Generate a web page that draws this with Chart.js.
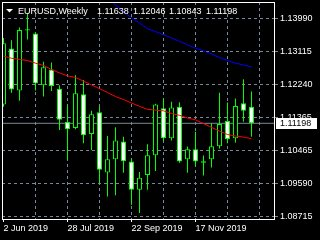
<!DOCTYPE html>
<html>
<head>
<meta charset="utf-8">
<script src="https://cdn.jsdelivr.net/npm/chart.js@4.4.1/dist/chart.umd.min.js"></script>
<style>
  html, body { margin: 0; padding: 0; background: #000; }
  #wrap { width: 320px; height: 240px; }
</style>
</head>
<body>
<div id="wrap"><canvas id="chart" width="320" height="240"></canvas></div>
<script>
// === DATA ===
const symbol = 'EURUSD,Weekly';

const weeks = [
  '2 Jun 2019', '9 Jun 2019', '16 Jun 2019', '23 Jun 2019', '30 Jun 2019', '7 Jul 2019',
  '14 Jul 2019', '21 Jul 2019', '28 Jul 2019', '4 Aug 2019', '11 Aug 2019', '18 Aug 2019',
  '25 Aug 2019', '1 Sep 2019', '8 Sep 2019', '15 Sep 2019', '22 Sep 2019', '29 Sep 2019',
  '6 Oct 2019', '13 Oct 2019', '20 Oct 2019', '27 Oct 2019', '3 Nov 2019', '10 Nov 2019',
  '17 Nov 2019', '24 Nov 2019', '1 Dec 2019', '8 Dec 2019', '15 Dec 2019', '22 Dec 2019',
  '29 Dec 2019', '5 Jan 2020'
];

const opens  = [1.1170, 1.1319, 1.1207, 1.1370, 1.1359, 1.1221, 1.1263, 1.1212, 1.1123, 1.1107,
                1.1197, 1.1091, 1.1149, 1.0989, 1.1024, 1.1071, 1.1018, 1.0943, 1.0982, 1.1035,
                1.1160, 1.1080, 1.1164, 1.1024, 1.1051, 1.1019, 1.1024, 1.1059, 1.1126, 1.1080,
                1.1173, 1.11638];
const highs  = [1.1347, 1.1341, 1.1375, 1.1412, 1.1362, 1.1284, 1.1282, 1.1221, 1.1168, 1.1248,
                1.1235, 1.1153, 1.1164, 1.1086, 1.1109, 1.1084, 1.1027, 1.0990, 1.1064, 1.1172,
                1.1186, 1.1177, 1.1176, 1.1058, 1.1097, 1.1034, 1.1120, 1.1201, 1.1175, 1.1186,
                1.1237, 1.12046];
const lows   = [1.1164, 1.1201, 1.1180, 1.1343, 1.1207, 1.1191, 1.1206, 1.1102, 1.1022, 1.1104,
                1.1067, 1.1049, 1.0960, 1.0925, 1.0928, 1.0988, 1.0903, 1.0881, 1.0943, 1.0993,
                1.1071, 1.1074, 1.1015, 1.0988, 1.1006, 1.0981, 1.1002, 1.1053, 1.1067, 1.1068,
                1.1124, 1.10843];
const closes = [1.1333, 1.1210, 1.1368, 1.1367, 1.1226, 1.1269, 1.1219, 1.1129, 1.1104, 1.1200,
                1.1088, 1.1144, 1.0996, 1.1024, 1.1074, 1.1019, 1.0943, 1.0975, 1.1035, 1.1170,
                1.1080, 1.1162, 1.1018, 1.1051, 1.1018, 1.1015, 1.1059, 1.1118, 1.1077, 1.1166,
                1.1153, 1.11198];

// red moving average
const maFast = [1.1299, 1.1293, 1.1290, 1.1287, 1.1280, 1.1274, 1.1263, 1.1254, 1.1246, 1.1242,
                1.1232, 1.1222, 1.1212, 1.1202, 1.1191, 1.1183, 1.1174, 1.1165, 1.1157, 1.1155,
                1.1153, 1.1146, 1.1141, 1.1134, 1.1129, 1.1119, 1.1109, 1.1099, 1.1090, 1.1086,
                1.1083, 1.1079];
// blue moving average (above the visible range before mid September)
const maSlow = [null, null, null, null, null, null, null, null, null, null,
                null, null, null, 1.1453, 1.1435, 1.1417, 1.1401, 1.1387, 1.1372, 1.1364,
                1.1356, 1.1347, 1.1338, 1.1329, 1.1320, 1.1313, 1.1304, 1.1295, 1.1287, 1.1280,
                1.1275, 1.1270];

const priceTicks = [1.08715, 1.09590, 1.10465, 1.11365, 1.12240, 1.13115, 1.13990];
const gridWeeks = [0, 4, 8, 12, 16, 20, 24, 28, 32];

// === LOOK ===
const Y_MIN = 1.08649, Y_MAX = 1.14429;
const X_MIN = -0.1875, X_MAX = 33.8125;
const GRID = 'rgb(119,136,153)';
const LIME = '#00ff00';
const FONT = { family: 'Liberation Sans', size: 9 };
Chart.defaults.font.family = 'Liberation Sans';

const idx = weeks.map((_, i) => i);
const lastClose = closes[closes.length - 1];

// background, frame, bid label and title block
const mtPlugin = {
  id: 'mt4',
  beforeDraw(chart) {
    const ctx = chart.ctx;
    ctx.save();
    ctx.fillStyle = '#000';
    ctx.fillRect(0, 0, chart.width, chart.height);
    ctx.restore();
  },
  afterDraw(chart) {
    const { ctx, chartArea: a, scales: { y } } = chart;
    ctx.save();
    ctx.strokeStyle = '#fff';
    ctx.lineWidth = 1;
    ctx.strokeRect(a.left + 0.5, a.top + 0.5, a.right - a.left, a.bottom - a.top);

    const py = Math.round(y.getPixelForValue(lastClose));
    ctx.fillStyle = '#fff';
    ctx.fillRect(a.right + 2, py - 5, 41, 11);
    ctx.fillStyle = '#000';
    ctx.font = '9px "Liberation Sans"';
    ctx.textBaseline = 'middle';
    ctx.fillText(lastClose.toFixed(5), a.right + 6, py + 0.5);

    // title
    ctx.fillStyle = '#fff';
    ctx.beginPath();
    ctx.moveTo(6, 9); ctx.lineTo(13, 9); ctx.lineTo(9.5, 12.5); ctx.closePath();
    ctx.fill();
    ctx.textBaseline = 'alphabetic';
    ctx.fillText(symbol, 18, 14);
    const last = closes.length - 1;
    const ohlc = [opens[last], highs[last], lows[last], closes[last]];
    const xs = [97, 133, 169, 206];
    ohlc.forEach((v, i) => ctx.fillText(v.toFixed(5), xs[i], 14));
    ctx.restore();
  }
};

new Chart(document.getElementById('chart'), {
  type: 'bar',
  data: {
    datasets: [
      {
        type: 'line', order: 0,
        data: idx.map(i => ({ x: i, y: maFast[i] })),
        borderColor: '#ff0000', borderWidth: 1, pointRadius: 0, tension: 0, fill: false
      },
      {
        type: 'line', order: 0,
        data: idx.map(i => ({ x: i, y: maSlow[i] })),
        borderColor: '#0000ff', borderWidth: 1, pointRadius: 0, tension: 0, fill: false
      },
      {
        order: 1,
        data: idx.map(i => ({ x: i, y: [opens[i], closes[i]] })),
        backgroundColor: idx.map(i => closes[i] < opens[i] ? '#ffffff' : '#000000'),
        borderColor: LIME, borderWidth: 1, borderSkipped: false,
        barThickness: 5, grouped: false, inflateAmount: 0
      },
      {
        order: 2,
        data: idx.map(i => ({ x: i, y: [lows[i], highs[i]] })),
        backgroundColor: LIME, borderWidth: 0,
        barThickness: 1, grouped: false, inflateAmount: 0
      },
      {
        type: 'line', order: 3,
        data: [{ x: X_MIN, y: lastClose }, { x: X_MAX, y: lastClose }],
        borderColor: GRID, borderWidth: 1, pointRadius: 0, fill: false
      }
    ]
  },
  options: {
    responsive: false,
    animation: false,
    devicePixelRatio: 1,
    events: [],
    layout: { padding: { left: 2, top: 2, right: 0, bottom: 0 } },
    plugins: { legend: { display: false }, tooltip: { enabled: false } },
    scales: {
      x: {
        type: 'linear', min: X_MIN, max: X_MAX, offset: false,
        afterBuildTicks: s => { s.ticks = gridWeeks.map(v => ({ value: v })); },
        afterFit: s => { s.height = 21; s.paddingLeft = 0; s.paddingRight = 0; },
        grid: {
          offset: false,
          color: c => (c.tick && c.tick.value === 0) ? 'rgba(0,0,0,0)' : GRID,
          tickLength: 3,
          tickColor: c => (c.tick && c.tick.value % 8 === 0 && weeks[c.tick.value]) ? '#ffffff' : 'rgba(0,0,0,0)',
          tickBorderDash: []
        },
        border: { display: false, dash: [3, 3] },
        ticks: {
          color: '#fff', font: FONT, align: 'start', padding: 1,
          maxRotation: 0, autoSkip: false,
          callback: v => (v % 8 === 0 && weeks[v]) ? weeks[v] : ''
        }
      },
      y: {
        type: 'linear', position: 'right', min: Y_MIN, max: Y_MAX,
        afterBuildTicks: s => { s.ticks = priceTicks.map(v => ({ value: v })); },
        afterFit: s => { s.width = 46; s.paddingTop = 0; s.paddingBottom = 0; },
        grid: { color: GRID, tickLength: 4, tickColor: GRID },
        border: { display: false, dash: [3, 3] },
        ticks: { color: '#fff', font: FONT, padding: 2, callback: v => v.toFixed(5) }
      }
    }
  },
  plugins: [mtPlugin]
});
</script>
</body>
</html>
